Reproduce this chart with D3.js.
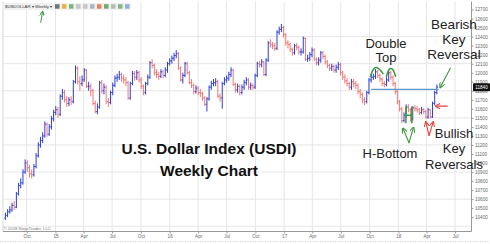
<!DOCTYPE html>
<html>
<head>
<meta charset="utf-8">
<script src="https://cdn.jsdelivr.net/npm/d3@7"></script>
<style>
  body { margin: 0; background: #fff; }
  svg { display: block; font-family: "Liberation Sans", Arial, sans-serif; }
  .axis text { font-size: 4.6px; fill: #666; }
  .axis path, .axis line { stroke: #999; }
  .note { font-size: 13px; fill: #222; text-anchor: middle; }
</style>
</head>
<body>
<div id="chart"></div>
<script>
// weekly USDOLLAR bars, first bar week ending 25 Jul 2014
const opens = [
  10390, 10420, 10460, 10480, 10530, 10510, 10660, 10750, 10780, 10900,
  11000, 10950, 10880, 10870, 10960, 11080, 11200, 11250, 11300, 11430,
  11320, 11400, 11490, 11560, 11590, 11540, 11740, 11780, 11700, 11660,
  11700, 11680, 11900, 12050, 11900, 11880, 11920, 12030, 11850, 11850,
  11800, 11660, 11570, 11620, 11890, 11800, 11840, 11680, 11670, 11780,
  11860, 11940, 11950, 11980, 11940, 11920, 11890, 11720, 11880, 11990,
  11950, 12000, 11920, 11850, 11780, 11880, 11950, 12110, 12080, 12000,
  11980, 11960, 12010, 11970, 12030, 12100, 12130, 12160, 12190, 12210,
  12050, 11920, 11970, 12100, 12000, 11890, 11860, 11790, 11830, 11780,
  11770, 11720, 11650, 11710, 11840, 11880, 11890, 11900, 11740, 11720,
  11880, 11920, 11940, 11980, 12030, 11870, 11810, 11850, 11780, 11840,
  11890, 11920, 11840, 11860, 11840, 11970, 12100, 12090, 12120, 11980,
  12140, 12330, 12310, 12300, 12270, 12450, 12480, 12500, 12420, 12330,
  12310, 12260, 12220, 12300, 12280, 12230, 12230, 12380, 12150, 12160,
  12200, 12250, 12150, 12110, 12140, 12220, 12180, 12120, 12080, 12050,
  12070, 12030, 12060, 12090, 12000, 11950, 11910, 11880, 11840, 11900,
  11880, 11860, 11790, 11760, 11700, 11680, 11780, 11920, 11950, 11960,
  12010, 11970, 11930, 11880, 11870, 11920, 12000, 11950, 11880, 11790,
  11680, 11600, 11470, 11530, 11620, 11590, 11490, 11610, 11600, 11590,
  11560, 11590, 11570, 11510, 11590, 11510, 11660, 11780
];
const highs = [
  10450, 10490, 10520, 10560, 10580, 10680, 10780, 10830, 10930, 11040,
  11030, 10980, 10930, 10990, 11110, 11230, 11290, 11340, 11460, 11450,
  11430, 11520, 11590, 11630, 11620, 11760, 11820, 11810, 11740, 11730,
  11740, 11920, 12080, 12070, 11960, 11970, 12050, 12040, 11900, 11880,
  11820, 11690, 11660, 11910, 11920, 11880, 11860, 11720, 11800, 11890,
  11970, 11990, 12020, 12000, 11980, 11950, 11910, 11900, 12020, 12020,
  12030, 12020, 11950, 11870, 11900, 11980, 12130, 12150, 12100, 12040,
  12010, 12040, 12030, 12060, 12120, 12160, 12190, 12220, 12250, 12230,
  12070, 12000, 12120, 12120, 12020, 11930, 11880, 11860, 11850, 11820,
  11790, 11740, 11730, 11860, 11910, 11930, 11940, 11920, 11770, 11900,
  11950, 11970, 12010, 12060, 12040, 11890, 11880, 11870, 11870, 11920,
  11950, 11940, 11890, 11880, 11990, 12120, 12130, 12150, 12130, 12160,
  12350, 12370, 12340, 12330, 12470, 12510, 12540, 12520, 12440, 12360,
  12330, 12280, 12320, 12330, 12300, 12270, 12400, 12390, 12200, 12230,
  12280, 12270, 12170, 12170, 12240, 12240, 12200, 12140, 12100, 12100,
  12090, 12090, 12120, 12110, 12020, 11980, 11940, 11900, 11930, 11930,
  11910, 11880, 11820, 11780, 11730, 11800, 11940, 11980, 11990, 12040,
  12030, 11990, 11950, 11910, 11950, 12030, 12020, 11970, 11900, 11810,
  11700, 11620, 11560, 11650, 11650, 11610, 11630, 11640, 11630, 11610,
  11620, 11610, 11590, 11610, 11600, 11680, 11800, 11870
];
const lows = [
  10370, 10400, 10440, 10460, 10480, 10500, 10640, 10720, 10760, 10880,
  10900, 10840, 10830, 10850, 10940, 11060, 11170, 11220, 11280, 11290,
  11300, 11370, 11460, 11530, 11500, 11520, 11700, 11670, 11620, 11630,
  11640, 11660, 11880, 11870, 11800, 11850, 11900, 11830, 11800, 11740,
  11640, 11550, 11540, 11600, 11770, 11760, 11650, 11620, 11650, 11750,
  11840, 11900, 11920, 11900, 11880, 11850, 11700, 11700, 11860, 11910,
  11920, 11890, 11820, 11750, 11760, 11860, 11930, 12050, 11970, 11940,
  11920, 11940, 11940, 11950, 12000, 12080, 12100, 12130, 12160, 12030,
  11900, 11880, 11950, 11980, 11870, 11830, 11760, 11770, 11750, 11730,
  11690, 11630, 11570, 11690, 11810, 11850, 11850, 11720, 11680, 11600,
  11860, 11890, 11910, 11950, 11850, 11780, 11780, 11750, 11760, 11810,
  11860, 11810, 11810, 11810, 11820, 11950, 12060, 12060, 11960, 11960,
  12120, 12280, 12260, 12240, 12250, 12420, 12450, 12390, 12300, 12270,
  12230, 12190, 12200, 12250, 12200, 12190, 12210, 12130, 12120, 12130,
  12170, 12130, 12080, 12080, 12110, 12150, 12090, 12050, 12020, 12020,
  12000, 12000, 12030, 11970, 11920, 11880, 11850, 11810, 11810, 11840,
  11820, 11760, 11720, 11660, 11640, 11660, 11760, 11890, 11920, 11930,
  11940, 11900, 11850, 11840, 11850, 11900, 11920, 11850, 11760, 11650,
  11570, 11440, 11450, 11500, 11560, 11460, 11470, 11570, 11560, 11530,
  11540, 11540, 11490, 11490, 11490, 11500, 11640, 11760
];
const closes = [
  10420, 10460, 10480, 10530, 10510, 10660, 10750, 10780, 10900, 11000,
  10950, 10880, 10870, 10960, 11080, 11200, 11250, 11300, 11430, 11320,
  11400, 11490, 11560, 11590, 11540, 11740, 11780, 11700, 11660, 11700,
  11680, 11900, 12050, 11900, 11880, 11920, 12030, 11850, 11850, 11800,
  11660, 11570, 11620, 11890, 11800, 11840, 11680, 11670, 11780, 11860,
  11940, 11950, 11980, 11940, 11920, 11890, 11720, 11880, 11990, 11950,
  12000, 11920, 11850, 11780, 11880, 11950, 12110, 12080, 12000, 11980,
  11960, 12010, 11970, 12030, 12100, 12130, 12160, 12190, 12210, 12050,
  11920, 11970, 12100, 12000, 11890, 11860, 11790, 11830, 11780, 11770,
  11720, 11650, 11710, 11840, 11880, 11890, 11900, 11740, 11720, 11880,
  11920, 11940, 11980, 12030, 11870, 11810, 11850, 11780, 11840, 11890,
  11920, 11840, 11860, 11840, 11970, 12100, 12090, 12120, 11980, 12140,
  12330, 12310, 12300, 12270, 12450, 12480, 12500, 12420, 12330, 12310,
  12260, 12220, 12300, 12280, 12230, 12230, 12380, 12150, 12160, 12200,
  12250, 12150, 12110, 12140, 12220, 12180, 12120, 12080, 12050, 12070,
  12030, 12060, 12090, 12000, 11950, 11910, 11880, 11840, 11900, 11880,
  11860, 11790, 11760, 11700, 11680, 11780, 11920, 11950, 11960, 12010,
  11970, 11930, 11880, 11870, 11920, 12000, 11950, 11880, 11790, 11680,
  11600, 11470, 11530, 11620, 11590, 11490, 11610, 11600, 11590, 11560,
  11590, 11570, 11510, 11590, 11510, 11660, 11780, 11840
];

const priceTicks = d3.range(10400, 12701, 100);
const gridTicks = [10300, 10600, 10900, 11200, 11500, 11800, 12100, 12400];
const xTickDates = [
  "2014-10-01", "2015-01-01", "2015-04-01", "2015-07-01",
  "2015-10-01", "2016-01-01", "2016-04-01", "2016-07-01",
  "2016-10-01", "2017-01-01", "2017-04-01", "2017-07-01",
  "2017-10-01", "2018-01-01", "2018-04-01", "2018-07-01"
];
const xTickLabels = ["Oct", "15", "Apr", "Jul", "Oct", "16", "Apr", "Jul",
                     "Oct", "17", "Apr", "Jul", "Oct", "18", "Apr", "Jul"];

const W = 490, H = 244;
const plot = { left: 3, right: 471.5, top: 1.5, bottom: 231.5 };

const parse = d3.timeParse("%Y-%m-%d");
const tickDates = xTickDates.map(parse);
const firstWeek = parse("2014-07-25");
const bars = closes.map((c, i) => ({
  date: d3.timeDay.offset(firstWeek, 7 * i),
  o: opens[i], h: highs[i], l: lows[i], c: c
}));

const x = d3.scaleTime()
  .domain([tickDates[0], tickDates[tickDates.length - 1]])
  .range([26.7, 455]);
const y = d3.scaleLinear()
  .domain([10400, 12700])
  .range([217.2, 9.5]);
// week index -> pixel, used for the hand drawn notes
const xw = i => x(d3.timeDay.offset(firstWeek, 7 * i));

const svg = d3.select('#chart').append('svg')
  .attr('width', W).attr('height', H);

const defs = svg.append('defs');
[['green', '#3b9b3b'], ['red', '#e8413c']].forEach(([id, col]) => {
  defs.append('marker')
    .attr('id', 'arrow-' + id)
    .attr('viewBox', '0 0 10 10')
    .attr('refX', 8).attr('refY', 5)
    .attr('markerWidth', 5).attr('markerHeight', 5)
    .attr('orient', 'auto')
    .append('path')
    .attr('d', 'M0,0 L10,5 L0,10')
    .attr('fill', 'none')
    .attr('stroke', col)
    .attr('stroke-width', 2);
});

// grid
const g = svg.append('g');
g.selectAll('.vgrid').data(tickDates).enter().append('line')
  .attr('x1', d => x(d)).attr('x2', d => x(d))
  .attr('y1', plot.top).attr('y2', plot.bottom)
  .attr('stroke', '#e6e6e6').attr('stroke-width', 1);
g.selectAll('.hgrid').data(gridTicks).enter().append('line')
  .attr('x1', plot.left).attr('x2', plot.right)
  .attr('y1', d => y(d)).attr('y2', d => y(d))
  .attr('stroke', '#e6e6e6').attr('stroke-width', 1);

// frame
svg.append('line').attr('x1', plot.left).attr('x2', plot.left)
  .attr('y1', plot.top).attr('y2', plot.bottom).attr('stroke', '#d8d8d8');

// axes
const xAxis = svg.append('g').attr('class', 'axis')
  .attr('transform', `translate(0,${plot.bottom})`)
  .call(d3.axisBottom(x).tickValues(tickDates)
    .tickFormat((d, i) => xTickLabels[i]).tickSize(2).tickPadding(1.5));
xAxis.select('.domain').attr('d', `M${plot.left},0H${plot.right}`).attr('stroke', '#aaa');

const yAxis = svg.append('g').attr('class', 'axis')
  .attr('transform', `translate(${plot.right},0)`)
  .call(d3.axisRight(y).tickValues(priceTicks).tickFormat(d3.format('d'))
    .tickSize(2).tickPadding(1.5));
yAxis.select('.domain').attr('d', `M0,${plot.top}V${plot.bottom}`).attr('stroke', '#777');

// last price tag
const last = bars[bars.length - 1];
const tag = svg.append('g').attr('transform', `translate(${plot.right + 1.5},${y(last.c)})`);
tag.append('rect').attr('x', 0).attr('y', -4).attr('width', 17).attr('height', 8)
  .attr('rx', 1).attr('fill', '#111');
tag.append('text').attr('x', 8.5).attr('y', 1.7).attr('text-anchor', 'middle')
  .attr('font-size', 4.6).attr('fill', '#fff').text(last.c);

// OHLC bars
const barG = svg.append('g');
const up = '#2c3fd8', down = '#f0625f';
const bar = barG.selectAll('g').data(bars).enter().append('g')
  .attr('stroke', d => d.c >= d.o ? up : down)
  .attr('stroke-width', 1)
  .attr('stroke-opacity', d => d.c >= d.o ? 1 : 0.85);
bar.append('line')
  .attr('x1', d => x(d.date)).attr('x2', d => x(d.date))
  .attr('y1', d => y(d.h)).attr('y2', d => y(d.l));
bar.append('line')
  .attr('x1', d => x(d.date) - 1.1).attr('x2', d => x(d.date))
  .attr('y1', d => y(d.o)).attr('y2', d => y(d.o));
bar.append('line')
  .attr('x1', d => x(d.date)).attr('x2', d => x(d.date) + 1.1)
  .attr('y1', d => y(d.c)).attr('y2', d => y(d.c));

// annotations
const green = '#3b9b3b', red = '#e8413c';
const ann = svg.append('g').attr('fill', 'none').attr('stroke-linecap', 'round');

// neckline
ann.append('line')
  .attr('x1', xw(167.3)).attr('x2', xw(197.7))
  .attr('y1', y(11815)).attr('y2', y(11815))
  .attr('stroke', '#5a9bd0').attr('stroke-width', 1.3);

// double top arcs
const arc = d3.line().curve(d3.curveBasis).x(d => xw(d[0])).y(d => y(d[1]));
[[[166.8, 11960], [168, 12060], [170.3, 12060], [172.5, 11990]],
 [[174, 11960], [175, 12050], [177, 12050], [178.2, 11960]]].forEach(pts => {
  ann.append('path').attr('d', arc(pts)).attr('stroke', green).attr('stroke-width', 1.5);
});

// H bottom
ann.append('path')
  .attr('d', `M${xw(182.9)},${y(11620)}V${y(11445)}M${xw(185.6)},${y(11620)}V${y(11445)}` +
             `M${xw(182.9)},${y(11530)}H${xw(185.6)}`)
  .attr('stroke', green).attr('stroke-width', 1.5);

// green up arrows to the two lows
[[181.7, 11380], [186.3, 11390]].forEach(t => {
  ann.append('line')
    .attr('x1', xw(184.4)).attr('y1', y(11225))
    .attr('x2', xw(t[0])).attr('y2', y(t[1]))
    .attr('stroke', green).attr('stroke-width', 1.1)
    .attr('marker-end', 'url(#arrow-green)');
});

// red up arrows, bullish key reversals
[[192.1, 11450], [195.3, 11450]].forEach(t => {
  ann.append('line')
    .attr('x1', xw(193.5)).attr('y1', y(11305))
    .attr('x2', xw(t[0])).attr('y2', y(t[1]))
    .attr('stroke', red).attr('stroke-width', 1.1)
    .attr('marker-end', 'url(#arrow-red)');
});
ann.append('line')
  .attr('x1', xw(201.8)).attr('y1', y(11630))
  .attr('x2', xw(196.6)).attr('y2', y(11630))
  .attr('stroke', red).attr('stroke-width', 1.1)
  .attr('marker-end', 'url(#arrow-red)');

// bearish key reversal arrow
ann.append('line')
  .attr('x1', xw(203.2)).attr('y1', y(12050))
  .attr('x2', xw(198.6)).attr('y2', y(11840))
  .attr('stroke', green).attr('stroke-width', 1.1)
  .attr('marker-end', 'url(#arrow-green)');

// labels
const notes = svg.append('g');
notes.append('text').attr('class', 'note').attr('x', 386).attr('y', 48).text('Double');
notes.append('text').attr('class', 'note').attr('x', 386).attr('y', 62).text('Top');
notes.append('text').attr('class', 'note').attr('x', 390).attr('y', 158).text('H-Bottom');
['Bearish', 'Key', 'Reversal'].forEach((t, i) => {
  notes.append('text').attr('class', 'note').style('font-size', '13.5px')
    .attr('x', 454).attr('y', 28.5 + i * 15).text(t);
});
['Bullish', 'Key', 'Reversals'].forEach((t, i) => {
  notes.append('text').attr('class', 'note').style('font-size', '13px')
    .attr('x', 454).attr('y', 138 + i * 15.3).text(t);
});
notes.append('text').attr('x', 209).attr('y', 154).attr('text-anchor', 'middle')
  .attr('font-size', 15.5).attr('font-weight', 'bold').attr('fill', '#111')
  .text('U.S. Dollar Index (USDI)');
notes.append('text').attr('x', 209).attr('y', 175.5).attr('text-anchor', 'middle')
  .attr('font-size', 15.5).attr('font-weight', 'bold').attr('fill', '#111')
  .text('Weekly Chart');

// copyright
svg.append('text').attr('x', 3.5).attr('y', 230).attr('font-size', 4.3).attr('fill', '#777')
  .text('\u00a9 2018 NinjaTrader, LLC');

// toolbar
const tb = svg.append('g');
tb.append('rect').attr('x', 3).attr('y', 3).attr('width', 128).attr('height', 7).attr('fill', '#f1f1f1');
tb.append('text').attr('x', 5).attr('y', 8.2).attr('font-size', 4.3).attr('fill', '#333')
  .text('$USDOLLAR \u25be  Weekly \u25be');
const icons = ['#555', '#e2a21b', '#5aa85a', '#bbb', '#bbb', '#9ab', '#e8663c', '#4a9a4a', '#aaa', '#6a6', '#7aa0d8'];
tb.selectAll('.ic').data(icons).enter().append('rect')
  .attr('x', (d, i) => 55 + i * 7).attr('y', 4.2).attr('width', 4.5).attr('height', 4.5)
  .attr('fill', d => d).attr('opacity', 0.8);
svg.append('line').attr('x1', 40.7).attr('y1', 22.7).attr('x2', 42.5).attr('y2', 12)
  .attr('stroke', green).attr('stroke-width', 1).attr('marker-end', 'url(#arrow-green)');

// dotted bottom rule
svg.append('line').attr('x1', 0).attr('x2', W).attr('y1', 241.5).attr('y2', 241.5)
  .attr('stroke', '#ccc').attr('stroke-dasharray', '1,1.5');
</script>
</body>
</html>
